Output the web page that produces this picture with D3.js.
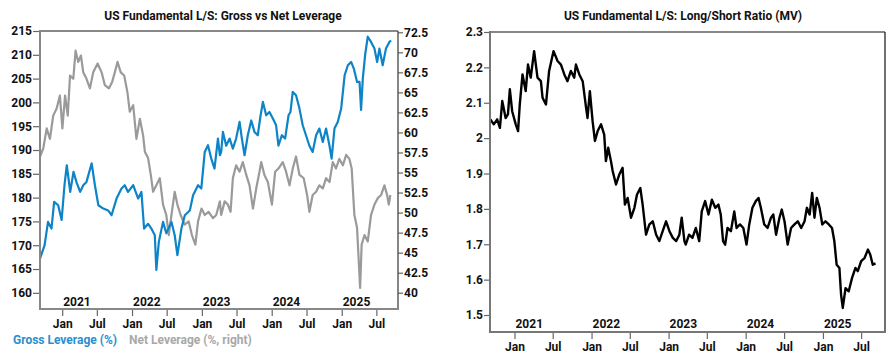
<!DOCTYPE html>
<html>
<head>
<meta charset="utf-8">
<script src="https://cdn.jsdelivr.net/npm/d3@7"></script>
<style>
  body { margin: 0; background: #fff; }
  svg text { font-family: Roboto, "Liberation Sans", sans-serif; font-weight: 700; font-size: 12px; }
</style>
</head>
<body>
<div id="chart"></div>
<script>
// Gross leverage (%), left axis of the first panel
const grossDates = [
  "2020-09-07","2020-10-01","2020-10-19","2020-11-06","2020-11-20","2020-12-11","2020-12-29",
  "2021-01-13","2021-01-25","2021-02-12","2021-03-01","2021-03-18","2021-04-05","2021-04-21",
  "2021-05-08","2021-06-04","2021-06-21","2021-07-09","2021-08-04","2021-08-29","2021-09-16",
  "2021-10-12","2021-11-07","2021-11-24","2021-12-11","2022-01-07","2022-02-02","2022-02-19",
  "2022-03-05","2022-03-26","2022-04-12","2022-04-30","2022-05-08","2022-05-21","2022-06-12",
  "2022-06-29","2022-07-26","2022-08-12","2022-08-26","2022-09-16","2022-10-04","2022-10-30",
  "2022-11-16","2022-12-12","2022-12-29","2023-01-16","2023-02-02","2023-02-19","2023-03-08",
  "2023-03-26","2023-04-05","2023-04-12","2023-04-21","2023-05-08","2023-05-26","2023-06-12",
  "2023-06-29","2023-07-17","2023-07-29","2023-08-12","2023-08-29","2023-09-16","2023-10-03",
  "2023-10-20","2023-11-04","2023-11-16","2023-12-03","2023-12-20","2024-01-07","2024-01-24",
  "2024-02-05","2024-02-23","2024-03-11","2024-03-29","2024-04-08","2024-04-20","2024-05-07",
  "2024-05-25","2024-06-11","2024-06-28","2024-07-16","2024-08-02","2024-08-20","2024-09-06",
  "2024-09-24","2024-10-11","2024-10-29","2024-11-09","2024-11-24","2024-12-11","2024-12-29",
  "2025-01-16","2025-02-02","2025-02-19","2025-03-05","2025-03-22","2025-04-04","2025-04-12",
  "2025-04-21","2025-05-03","2025-05-17","2025-06-03","2025-06-21","2025-07-05","2025-07-17",
  "2025-08-03","2025-08-20","2025-09-07","2025-09-16"
];
const grossValues = [
  167.2,170.0,174.9,173.5,179.1,178.4,175.3,
  182.6,186.8,181.2,185.4,183.1,181.2,182.6,
  183.3,187.2,182.6,178.4,177.7,177.3,176.3,
  179.8,181.9,182.6,181.2,182.6,179.8,181.2,
  173.5,174.5,173.5,172.1,164.8,170.7,174.9,
  172.5,174.9,172.1,167.9,173.5,176.3,177.3,
  180.5,182.6,181.9,189.6,191.0,188.2,186.1,
  192.4,188.9,189.6,193.8,190.9,192.4,190.3,
  192.4,195.9,192.4,188.9,193.1,196.2,193.8,
  193.1,197.3,200.1,197.3,198.0,196.6,195.2,
  190.9,193.1,192.4,197.3,198.0,202.2,201.5,
  198.7,195.2,193.1,190.9,189.6,193.1,194.5,
  191.7,194.5,190.9,188.2,194.5,195.9,198.7,
  205.7,207.8,208.5,207.1,204.3,204.3,198.4,
  205.0,209.9,213.8,212.7,211.3,208.5,211.3,
  207.8,211.3,212.7,213.0
];

// Net leverage (%), right axis of the first panel
const netDates = [
  "2020-09-07","2020-09-24","2020-10-12","2020-10-29","2020-11-15","2020-12-03","2020-12-20",
  "2021-01-02","2021-01-16","2021-01-30","2021-02-11","2021-02-28","2021-03-12","2021-03-26",
  "2021-04-09","2021-04-21","2021-05-08","2021-05-26","2021-06-12","2021-07-05","2021-07-26",
  "2021-08-12","2021-09-02","2021-09-19","2021-10-03","2021-10-17","2021-11-03","2021-11-21",
  "2021-12-08","2021-12-20","2022-01-07","2022-01-24","2022-02-11","2022-02-28","2022-03-09",
  "2022-03-26","2022-04-09","2022-04-21","2022-05-08","2022-05-26","2022-06-12","2022-06-29",
  "2022-07-12","2022-07-26","2022-08-12","2022-08-26","2022-09-12","2022-10-03","2022-10-24",
  "2022-11-10","2022-11-28","2022-12-12","2022-12-30","2023-01-16","2023-02-05","2023-02-28",
  "2023-03-17","2023-04-05","2023-04-12","2023-04-30","2023-05-17","2023-05-31","2023-06-12",
  "2023-06-29","2023-07-17","2023-08-03","2023-08-21","2023-09-07","2023-09-25","2023-10-12",
  "2023-10-29","2023-11-07","2023-11-24","2023-12-12","2024-01-02","2024-01-19","2024-02-05",
  "2024-02-28","2024-03-16","2024-04-03","2024-04-20","2024-05-07","2024-05-25","2024-06-16",
  "2024-07-04","2024-07-16","2024-08-02","2024-08-20","2024-09-06","2024-09-24","2024-10-11",
  "2024-10-29","2024-11-15","2024-12-02","2024-12-19","2025-01-07","2025-01-24","2025-02-10",
  "2025-02-22","2025-03-08","2025-03-22","2025-03-31","2025-04-07","2025-04-15","2025-04-30",
  "2025-05-17","2025-06-03","2025-06-21","2025-07-08","2025-07-26","2025-08-12","2025-08-26",
  "2025-09-04","2025-09-12"
];
const netValues = [
  57.0,58.0,60.5,59.2,62.1,63.0,64.6,
  60.5,64.6,62.1,67.1,66.7,70.2,68.8,
  69.6,67.5,66.7,65.5,67.5,68.6,67.5,
  65.9,65.5,66.3,67.5,68.8,67.5,67.1,
  65.0,62.6,63.4,59.2,61.7,59.6,57.6,
  56.8,54.7,52.6,53.4,54.3,51.0,49.7,
  47.2,49.7,52.6,51.0,49.7,48.5,48.9,
  47.2,46.0,48.9,50.5,49.7,50.1,49.3,
  49.7,51.4,49.7,51.4,51.0,50.1,54.3,
  55.9,55.1,56.3,54.7,53.4,50.5,53.0,
  55.1,56.3,54.7,53.8,51.0,55.1,55.5,
  56.3,55.1,53.4,55.5,57.0,54.7,54.3,
  52.2,50.1,52.2,52.6,53.4,53.0,54.3,
  53.8,56.3,55.5,56.7,55.9,57.2,56.7,
  55.5,49.7,48.1,43.9,40.6,46.0,47.2,
  46.4,49.7,51.0,51.8,52.2,53.4,52.2,
  51.0,52.2
];

// Long/short ratio (MV), second panel
const ratioDates = [
  "2020-09-09","2020-09-25","2020-10-11","2020-10-24","2020-11-04","2020-11-20","2020-12-01",
  "2020-12-10","2020-12-21","2021-01-07","2021-01-18","2021-01-26","2021-02-08","2021-02-23",
  "2021-03-06","2021-03-19","2021-04-04","2021-04-20","2021-05-06","2021-05-14","2021-05-30",
  "2021-06-14","2021-07-05","2021-07-24","2021-08-09","2021-08-25","2021-09-09","2021-09-25",
  "2021-10-11","2021-10-19","2021-11-04","2021-11-20","2021-12-06","2021-12-13","2021-12-24",
  "2022-01-06","2022-01-17","2022-01-30","2022-02-15","2022-03-02","2022-03-10","2022-03-21",
  "2022-04-03","2022-04-11","2022-04-27","2022-05-13","2022-05-28","2022-06-08","2022-06-21",
  "2022-07-07","2022-07-23","2022-08-04","2022-08-20","2022-08-31","2022-09-16","2022-10-02",
  "2022-10-18","2022-11-03","2022-11-18","2022-12-04","2022-12-20","2023-01-05","2023-01-21",
  "2023-02-06","2023-02-21","2023-03-04","2023-03-17","2023-03-23","2023-04-08","2023-04-24",
  "2023-05-10","2023-05-26","2023-06-07","2023-06-23","2023-07-09","2023-07-25","2023-08-10",
  "2023-08-25","2023-09-05","2023-09-16","2023-09-26","2023-10-07","2023-10-23","2023-11-08",
  "2023-11-19","2023-12-05","2023-12-21","2024-01-05","2024-01-18","2024-02-02","2024-02-18",
  "2024-03-02","2024-03-13","2024-03-29","2024-04-14","2024-04-30","2024-05-11","2024-05-24",
  "2024-06-09","2024-06-20","2024-07-03","2024-07-18","2024-08-03","2024-08-19","2024-09-04",
  "2024-09-20","2024-10-06","2024-10-17","2024-10-30","2024-11-11","2024-11-22","2024-12-03",
  "2024-12-16","2024-12-29","2025-01-13","2025-01-29","2025-02-13","2025-02-24","2025-03-07",
  "2025-03-20","2025-03-28","2025-04-05","2025-04-18","2025-05-03","2025-05-19","2025-06-04",
  "2025-06-15","2025-07-01","2025-07-17","2025-08-02","2025-08-13","2025-08-25","2025-09-07"
];
const ratioValues = [
  2.053,2.039,2.053,2.029,2.105,2.057,2.067,
  2.138,2.076,2.039,2.020,2.095,2.180,2.133,
  2.208,2.171,2.246,2.171,2.161,2.114,2.095,
  2.190,2.246,2.218,2.208,2.180,2.161,2.190,
  2.171,2.208,2.180,2.161,2.086,2.057,2.133,
  2.048,1.992,2.020,2.039,2.010,1.935,1.973,
  1.935,1.907,1.869,1.898,1.916,1.812,1.831,
  1.775,1.803,1.840,1.859,1.812,1.727,1.756,
  1.765,1.727,1.709,1.737,1.765,1.737,1.718,
  1.709,1.727,1.775,1.709,1.699,1.727,1.718,
  1.746,1.709,1.793,1.822,1.784,1.826,1.803,
  1.812,1.784,1.709,1.699,1.746,1.737,1.793,
  1.746,1.756,1.746,1.699,1.756,1.803,1.822,
  1.831,1.803,1.756,1.746,1.775,1.784,1.727,
  1.775,1.798,1.765,1.699,1.746,1.756,1.765,
  1.746,1.765,1.803,1.784,1.845,1.775,1.831,
  1.803,1.756,1.765,1.756,1.746,1.709,1.642,
  1.633,1.557,1.520,1.576,1.567,1.605,1.633,
  1.624,1.652,1.661,1.685,1.671,1.642,1.646
];

// Tick labels
const grossTicks = [160, 165, 170, 175, 180, 185, 190, 195, 200, 205, 210, 215];
const netTicks = [40, 42.5, 45, 47.5, 50, 52.5, 55, 57.5, 60, 62.5, 65, 67.5, 70, 72.5];
const ratioTicks = [1.5, 1.6, 1.7, 1.8, 1.9, 2.0, 2.1, 2.2, 2.3];
const years = ["2021", "2022", "2023", "2024", "2025"];

const blue = "#0d84c7", grey = "#9a9a9a";
const width = 890, height = 363;
const parse = d3.timeParse("%Y-%m-%d");
const toSeries = (dates, values) => dates.map((d, i) => ({date: parse(d), value: values[i]}));

const svg = d3.select("#chart").append("svg")
    .attr("width", width)
    .attr("height", height)
    .style("background", "white");

const xDomain = [parse("2020-09-07"), parse("2025-10-22")];

function styleAxis(g) {
    g.select(".domain").remove();
    g.selectAll(".tick line").attr("stroke", "#666").attr("stroke-width", 1.2);
    g.selectAll(".tick text").attr("fill", "#111");
}

function timeAxis(x, bottom, yearBaseline) {
    svg.append("g")
        .attr("transform", `translate(0,${bottom})`)
        .call(d3.axisBottom(x)
            .ticks(d3.timeMonth.every(6))
            .tickFormat(d3.timeFormat("%b"))
            .tickSize(7)
            .tickPadding(3))
        .call(styleAxis);

    svg.append("g").selectAll("text")
        .data(years)
        .join("text")
        .attr("x", d => x(parse(d + "-01-01")) + 1)
        .attr("y", yearBaseline)
        .attr("fill", "#111")
        .text(d => d);
}

function frame(box, sideColor, farColor, farWidth) {
    const g = svg.append("g").attr("fill", "none");
    g.append("line").attr("x1", box.left).attr("x2", box.right).attr("y1", box.top).attr("y2", box.top)
        .attr("stroke", farColor).attr("stroke-width", farWidth);
    g.append("line").attr("x1", box.right).attr("x2", box.right).attr("y1", box.top).attr("y2", box.bottom)
        .attr("stroke", box.rightColor || farColor).attr("stroke-width", box.rightWidth || farWidth);
    g.append("line").attr("x1", box.left).attr("x2", box.left).attr("y1", box.top - 1).attr("y2", box.bottom + 1)
        .attr("stroke", sideColor).attr("stroke-width", 2);
    g.append("line").attr("x1", box.left - 1).attr("x2", box.right + 1).attr("y1", box.bottom).attr("y2", box.bottom)
        .attr("stroke", sideColor).attr("stroke-width", 2);
}

// --- Left panel: gross vs net leverage ---
const L = {left: 40, right: 398, top: 31, bottom: 309, rightColor: "#444", rightWidth: 1.3};
const xL = d3.scaleTime().domain(xDomain).range([L.left, L.right]);
const yGross = d3.scaleLinear().domain([156.6, 215]).range([L.bottom, L.top]);
const yNet = d3.scaleLinear().domain([37.97, 72.66]).range([L.bottom, L.top]);

svg.append("path")
    .datum(toSeries(netDates, netValues))
    .attr("fill", "none")
    .attr("stroke", grey)
    .attr("stroke-width", 2.2)
    .attr("stroke-linejoin", "round")
    .attr("d", d3.line().x(d => xL(d.date)).y(d => yNet(d.value)));

svg.append("path")
    .datum(toSeries(grossDates, grossValues))
    .attr("fill", "none")
    .attr("stroke", blue)
    .attr("stroke-width", 2.2)
    .attr("stroke-linejoin", "round")
    .attr("d", d3.line().x(d => xL(d.date)).y(d => yGross(d.value)));

svg.append("g")
    .attr("transform", `translate(${L.left},0)`)
    .call(d3.axisLeft(yGross).tickValues(grossTicks).tickSize(7).tickPadding(1).tickFormat(d3.format("d")))
    .call(styleAxis);

svg.append("g")
    .attr("transform", `translate(${L.right},0)`)
    .call(d3.axisRight(yNet).tickValues(netTicks).tickSize(5).tickPadding(1).tickFormat(d => String(d)))
    .call(styleAxis);

timeAxis(xL, L.bottom, 306);
frame(L, "#888", "#888", 2);

svg.append("text")
    .attr("x", (L.left + L.right) / 2 + 4)
    .attr("y", 20)
    .attr("text-anchor", "middle")
    .attr("fill", "#111")
    .text("US Fundamental L/S: Gross vs Net Leverage");

svg.append("text").attr("x", 13).attr("y", 344).attr("fill", "#2a8fcf").text("Gross Leverage (%)");
svg.append("text").attr("x", 129).attr("y", 344).attr("fill", "#a8a8a8").text("Net Leverage (%, right)");

// --- Right panel: long/short ratio ---
const R = {left: 490, right: 885, top: 32, bottom: 332};
const xR = d3.scaleTime().domain(xDomain).range([R.left, R.right]);
const yR = d3.scaleLinear().domain([1.452, 2.3]).range([R.bottom, R.top]);

svg.append("path")
    .datum(toSeries(ratioDates, ratioValues))
    .attr("fill", "none")
    .attr("stroke", "#000")
    .attr("stroke-width", 2.4)
    .attr("stroke-linejoin", "round")
    .attr("d", d3.line().x(d => xR(d.date)).y(d => yR(d.value)));

svg.append("g")
    .attr("transform", `translate(${R.left},0)`)
    .call(d3.axisLeft(yR).tickValues(ratioTicks).tickSize(6).tickPadding(1).tickFormat(d => String(d)))
    .call(styleAxis);

timeAxis(xR, R.bottom, 328);
frame(R, "#777", "#111", 1.2);

svg.append("text")
    .attr("x", 683)
    .attr("y", 20)
    .attr("text-anchor", "middle")
    .attr("fill", "#111")
    .text("US Fundamental L/S: Long/Short Ratio (MV)");
</script>
</body>
</html>
